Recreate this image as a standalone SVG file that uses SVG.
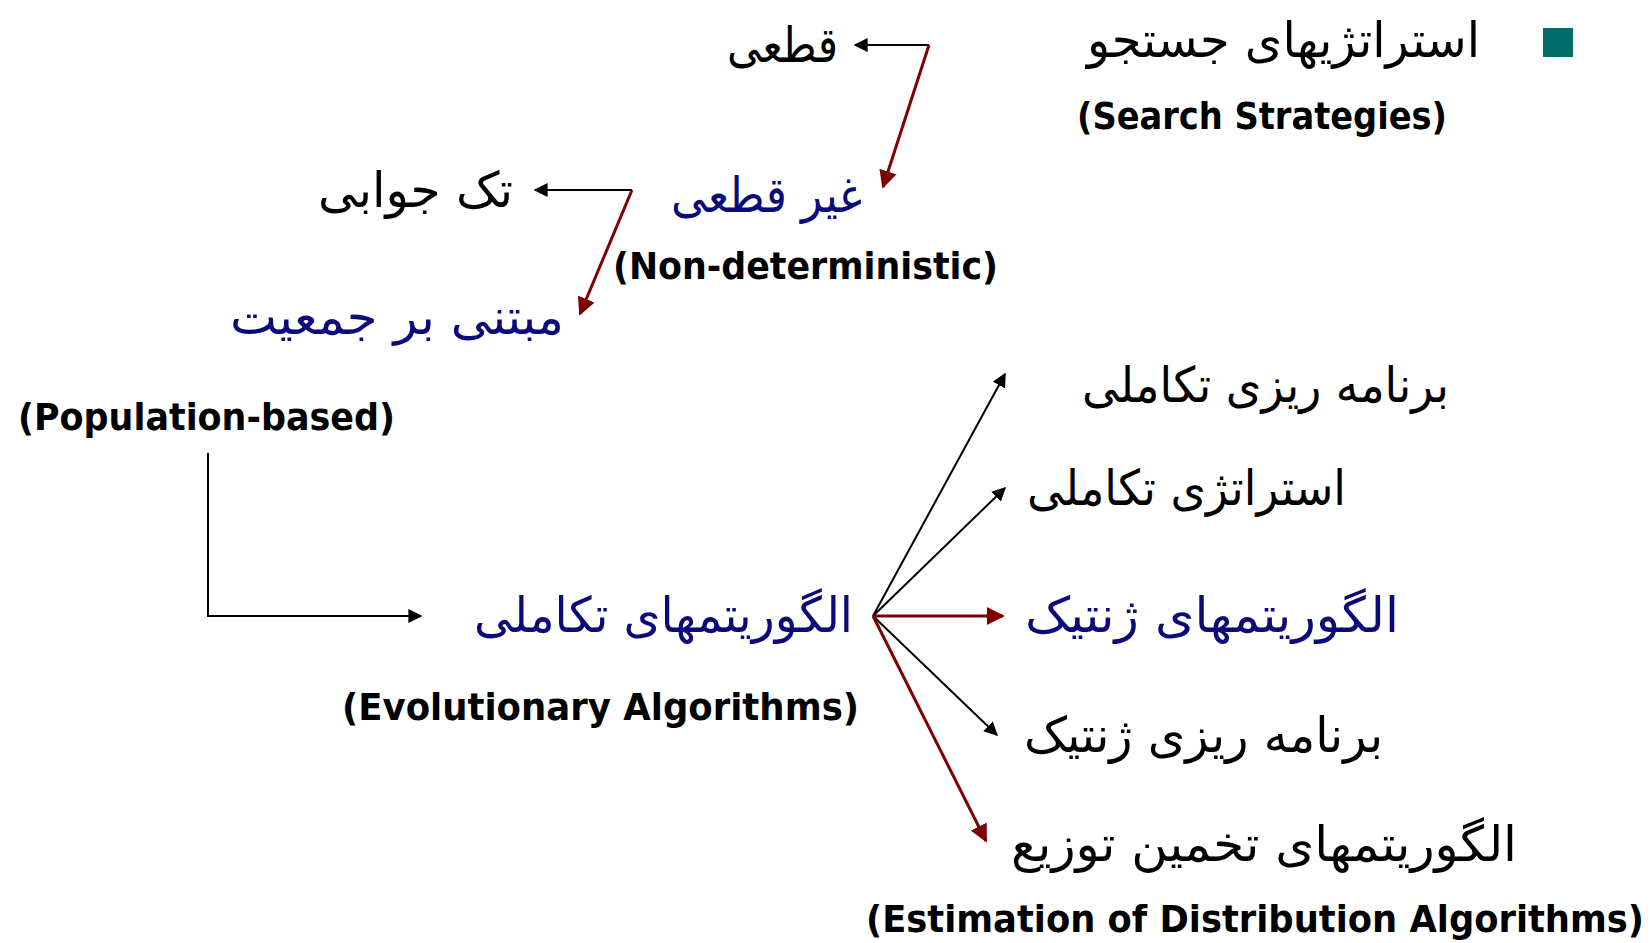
<svg xmlns="http://www.w3.org/2000/svg" width="1652" height="943" viewBox="0 0 1652 943">
<defs>
<style>
.fa{font-family:"DejaVu Sans","Noto Sans",sans-serif;font-size:49px;text-anchor:end;fill:#000}
.bl{fill:#0a0a7a}
.en{font-family:"DejaVu Sans Condensed","DejaVu Sans",sans-serif;font-weight:bold;font-size:38px;fill:#000}
.k{stroke:#000;stroke-width:2;fill:none}
.r{stroke:#7f0000;stroke-width:3;fill:none}
</style>
<marker id="ak" viewBox="0 0 10 10" refX="9" refY="5" markerWidth="14" markerHeight="14" markerUnits="userSpaceOnUse" orient="auto"><path d="M0,0 L10,5 L0,10 z" fill="#000"/></marker>
<marker id="ar" viewBox="0 0 10 10" refX="9" refY="5" markerWidth="18" markerHeight="18" markerUnits="userSpaceOnUse" orient="auto"><path d="M0,0 L10,5 L0,10 z" fill="#7f0000"/></marker>
</defs>
<rect width="1652" height="943" fill="#fff"/>
<g id="bullet"><rect x="1543" y="28" width="30" height="29" fill="#006e68"/></g>
<g id="n-search"><text class="fa" x="1480" y="57" textLength="393" lengthAdjust="spacingAndGlyphs">استراتژیهای جستجو</text><text class="en" x="1077" y="129" textLength="370" lengthAdjust="spacingAndGlyphs">(Search Strategies)</text></g>
<g id="n-det"><text class="fa" x="838" y="62" textLength="111" lengthAdjust="spacingAndGlyphs">قطعی</text></g>
<g id="n-nondet"><text class="fa bl" x="862" y="212" textLength="191" lengthAdjust="spacingAndGlyphs">غیر قطعی</text><text class="en" x="613" y="279" textLength="385" lengthAdjust="spacingAndGlyphs">(Non-deterministic)</text></g>
<g id="n-single"><text class="fa" x="513" y="207" textLength="195" lengthAdjust="spacingAndGlyphs">تک جوابی</text></g>
<g id="n-pop"><text class="fa bl" x="564" y="334" textLength="334" lengthAdjust="spacingAndGlyphs">مبتنی بر جمعیت</text><text class="en" x="18" y="430" textLength="377" lengthAdjust="spacingAndGlyphs">(Population-based)</text></g>
<g id="n-ea"><text class="fa bl" x="853" y="632" textLength="379" lengthAdjust="spacingAndGlyphs">الگوریتمهای تکاملی</text><text class="en" x="342" y="720" textLength="517" lengthAdjust="spacingAndGlyphs">(Evolutionary Algorithms)</text></g>
<g id="n-ep"><text class="fa" x="1449" y="402" textLength="367" lengthAdjust="spacingAndGlyphs">برنامه ریزی تکاملی</text></g>
<g id="n-es"><text class="fa" x="1346" y="505" textLength="319" lengthAdjust="spacingAndGlyphs">استراتژی تکاملی</text></g>
<g id="n-ga"><text class="fa bl" x="1399" y="632" textLength="374" lengthAdjust="spacingAndGlyphs">الگوریتمهای ژنتیک</text></g>
<g id="n-gp"><text class="fa" x="1383" y="752" textLength="359" lengthAdjust="spacingAndGlyphs">برنامه ریزی ژنتیک</text></g>
<g id="n-eda"><text class="fa" x="1517" y="861" textLength="506" lengthAdjust="spacingAndGlyphs">الگوریتمهای تخمین توزیع</text><text class="en" x="866" y="932" textLength="778" lengthAdjust="spacingAndGlyphs">(Estimation of Distribution Algorithms)</text></g>
<g id="connectors">
<path class="k" d="M929,45 L855,45" marker-end="url(#ak)"/>
<path class="r" d="M929,45 L883,187" marker-end="url(#ar)"/>
<path class="k" d="M632,190 L535,190" marker-end="url(#ak)"/>
<path class="r" d="M632,190 L580,314" marker-end="url(#ar)"/>
<path class="k" d="M208,453 L208,616 L421,616" marker-end="url(#ak)"/>
<path class="k" d="M873,616 L1005,374" marker-end="url(#ak)"/>
<path class="k" d="M873,616 L1005,488" marker-end="url(#ak)"/>
<path class="r" d="M873,616 L1003,616" marker-end="url(#ar)"/>
<path class="k" d="M873,616 L997,735" marker-end="url(#ak)"/>
<path class="r" d="M873,616 L986,841" marker-end="url(#ar)"/>
</g>
</svg>
